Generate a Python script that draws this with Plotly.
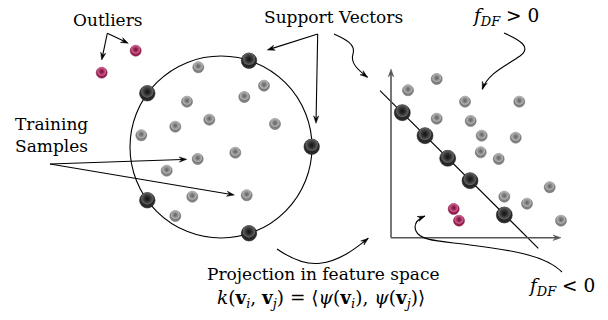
import plotly.graph_objects as go

W, H = 608, 320

# ---------------- data (diagram coordinates, 1 unit = 1 px, y grows downward) -------------
circle_cx, circle_cy, circle_r = 221, 147, 91

sv_left_x = [249, 147.3, 311.7, 147.3, 249]
sv_left_y = [60.7, 93.3, 146.7, 200.3, 233.3]
train_left_x = [198.3, 264, 244.3, 187, 209.3, 175.3, 275, 141.3, 235.3, 197.7, 166.7, 192.3, 246.7, 175.3]
train_left_y = [67.3, 85.7, 97, 101.7, 119.7, 126.7, 124, 135.3, 152.7, 159, 170.7, 196.7, 195.3, 216]
outlier_left_x = [135.7, 101.7]
outlier_left_y = [50.7, 72.7]

sv_right_x = [402.3, 425, 447.7, 470, 504.3]
sv_right_y = [112.7, 135.7, 158.3, 180.7, 215]
train_right_x = [436.7, 408, 465, 519.3, 436.7, 470.7, 481.7, 515.7, 480.7, 498.7, 549.7, 504.3, 527, 561]
train_right_y = [79, 90.3, 101.7, 101.7, 118.7, 121, 135.7, 137.7, 152.3, 159, 187.3, 196.7, 203.7, 220.7]
outlier_right_x = [453.7, 459]
outlier_right_y = [209, 220.7]

axis_origin = (391, 237.7)
axis_y_top = 69
axis_x_right = 561
hyperplane = [(380, 90.7), (538.3, 248.3)]

labels = {  # text, x, y, font size
    "outliers": ("Outliers", 107.5, 20, 17),
    "sv": ("Support Vectors", 333.5, 17, 17),
    "fpos": ("<i>f</i><sub><i>DF</i></sub> &gt; 0", 505, 17, 18.5),
    "train1": ("Training", 51, 124, 17),
    "train2": ("Samples", 51, 146, 17),
    "proj": ("Projection in feature space", 323, 274, 17),
    "kernel": ("<i>k</i>(<b>v</b><sub><i>i</i></sub>, <b>v</b><sub><i>j</i></sub>) = "
               "⟨<i>ψ</i>(<b>v</b><sub><i>i</i></sub>), <i>ψ</i>(<b>v</b><sub><i>j</i></sub>)⟩", 321, 299, 18.5),
    "fneg": ("<i>f</i><sub><i>DF</i></sub> &lt; 0", 561, 287, 18.5),
}

straight_arrows = [  # (tail, tip)
    ((107.3, 33.3), (101.7, 60)),
    ((107.3, 33.3), (128.3, 43.3)),
    ((317.7, 34), (267.3, 50)),
    ((317.7, 34), (316, 123.3)),
    ((50, 164), (186.7, 159.3)),
    ((50, 164), (234.3, 195)),
]

curves = [  # list of cubic segments: start, then (c1, c2, end) ...
    [(334, 34), ((345, 39), (356, 44), (353, 54)), ((350, 63), (358, 70), (367.5, 77.3))],
    [(504, 33), ((520, 40), (532, 47), (520, 56)), ((506, 66), (488, 73), (482.3, 89.3))],
    [(277, 249), ((290, 258), (305, 265), (320, 263.3)), ((340, 261), (356, 248), (368.3, 238.3))],
    [(562, 272), ((545, 255), (510, 250), (470, 245)), ((440, 241), (420, 241), (416, 231)),
     ((413, 224), (418, 219), (425, 216))],
]

FONT = "DejaVu Serif"

fig = go.Figure()


def add_balls(xs, ys, d, base, edge, hi, hi_clear):
    fig.add_trace(go.Scatter(
        x=xs, y=ys, mode="markers", hoverinfo="skip", showlegend=False,
        marker=dict(size=d, color=base, gradient=dict(type="radial", color=edge),
                    line=dict(width=0.5, color=edge))))
    fig.add_trace(go.Scatter(
        x=xs, y=[y - 0.12 * d for y in ys], mode="markers", hoverinfo="skip", showlegend=False,
        marker=dict(size=d * 0.8, color=hi, gradient=dict(type="radial", color=hi_clear),
                    line=dict(width=0))))


gray = ("#8c8c8c", "#5a5a5a", "#bdbdbd", "rgba(140,140,140,0)")
black = ("#303030", "#0e0e0e", "#6a6a6a", "rgba(48,48,48,0)")
red = ("#a8225a", "#6a1030", "#d872a0", "rgba(168,34,90,0)")

add_balls(train_left_x, train_left_y, 11, *gray)
add_balls(train_right_x, train_right_y, 11, *gray)
add_balls(outlier_left_x, outlier_left_y, 11, *red)
add_balls(outlier_right_x, outlier_right_y, 11, *red)
add_balls(sv_left_x, sv_left_y, 15.5, *black)
add_balls(sv_right_x, sv_right_y, 16, *black)

shapes = [
    dict(type="circle", xref="x", yref="y", x0=circle_cx - circle_r, x1=circle_cx + circle_r,
         y0=circle_cy - circle_r, y1=circle_cy + circle_r, line=dict(color="black", width=1.1),
         layer="below"),
    dict(type="line", xref="x", yref="y", x0=hyperplane[0][0], y0=hyperplane[0][1],
         x1=hyperplane[1][0], y1=hyperplane[1][1], line=dict(color="black", width=1.1), layer="below"),
]


def head(tip, frm, color="black", L=7.5, hw=2.6):
    dx, dy = tip[0] - frm[0], tip[1] - frm[1]
    n = (dx * dx + dy * dy) ** 0.5
    ux, uy = dx / n, dy / n
    bx, by = tip[0] - L * ux, tip[1] - L * uy
    nx, ny = -uy, ux
    mx, my = tip[0] - 0.65 * L * ux, tip[1] - 0.65 * L * uy
    p = "M %.2f %.2f L %.2f %.2f L %.2f %.2f L %.2f %.2f Z" % (
        tip[0], tip[1], bx + hw * nx, by + hw * ny, mx, my, bx - hw * nx, by - hw * ny)
    shapes.append(dict(type="path", xref="x", yref="y", path=p, fillcolor=color,
                       line=dict(color=color, width=0.5)))
    return (tip[0] - 0.6 * L * ux, tip[1] - 0.6 * L * uy)


for tail, tip in straight_arrows:
    end = head(tip, tail)
    shapes.append(dict(type="line", xref="x", yref="y", x0=tail[0], y0=tail[1], x1=end[0], y1=end[1],
                       line=dict(color="black", width=1.1)))

# axes of the feature space
for tip in [(axis_origin[0], axis_y_top), (axis_x_right, axis_origin[1])]:
    end = head(tip, axis_origin, color="#555555", L=8, hw=2.8)
    shapes.append(dict(type="line", xref="x", yref="y", x0=axis_origin[0], y0=axis_origin[1],
                       x1=end[0], y1=end[1], line=dict(color="#555555", width=1.6)))

for c in curves:
    p = "M %g %g" % c[0]
    for seg in c[1:]:
        p += " C %g %g, %g %g, %g %g" % (seg[0] + seg[1] + seg[2])
    shapes.append(dict(type="path", xref="x", yref="y", path=p, line=dict(color="black", width=1.1)))
    head(c[-1][2], c[-1][1])

annotations = []
for key, (txt, x, y, fs) in labels.items():
    annotations.append(dict(x=x, y=y, xref="x", yref="y", text=txt, showarrow=False,
                            xanchor="center", yanchor="middle",
                            font=dict(family=FONT, size=fs, color="black")))

fig.update_layout(
    width=W, height=H, margin=dict(l=0, r=0, t=0, b=0),
    paper_bgcolor="white", plot_bgcolor="white",
    font=dict(family=FONT, size=17, color="black"),
    xaxis=dict(range=[0, W], visible=False, fixedrange=True),
    yaxis=dict(range=[H, 0], visible=False, fixedrange=True),
    shapes=shapes, annotations=annotations, showlegend=False,
)

fig.write_html("out.html", config={"displayModeBar": False})
